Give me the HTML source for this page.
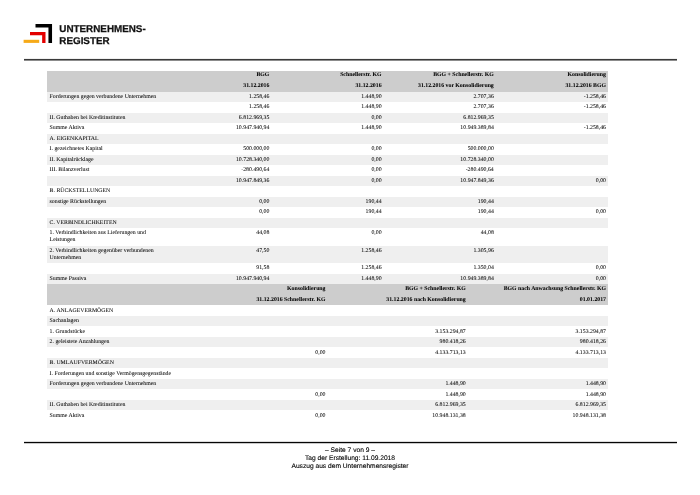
<!DOCTYPE html>
<html><head><meta charset="utf-8"><style>
*{margin:0;padding:0;box-sizing:border-box}
html,body{width:700px;height:495px;background:#fff;overflow:hidden}
body{position:relative;font-family:"Liberation Serif",serif;color:#000;text-rendering:geometricPrecision}
.c{-webkit-text-stroke:0.04px #000}
.logo div{position:absolute}
.lt{position:absolute;left:59.3px;font:bold 9.85px/12.1px "Liberation Sans",sans-serif;color:#111;white-space:nowrap;-webkit-text-stroke:0.25px #111}
.rule{position:absolute;left:23.5px;width:653px}
.r{position:absolute;left:47.0px;width:561.0px}
.c{position:absolute;top:0;font-size:5.82px;line-height:6.95px;padding-top:2.3px;white-space:nowrap}
.l{padding-left:2.6px;text-align:left}
.n{padding-right:2.0px;text-align:right}
.b{font-weight:bold}
.ft{position:absolute;left:0;width:700px;text-align:center;font:6.65px/7.8px "Liberation Sans",sans-serif;color:#000;-webkit-text-stroke:0.12px #000}
</style></head><body>
<div id="w" style="position:absolute;left:0;top:0;width:700px;height:495px;will-change:transform">
<svg style="position:absolute;left:0;top:0" width="60" height="50" viewBox="0 0 60 50">
<path d="M35.5 24.1H52.05V42.9H48.45V27.6H35.5Z" fill="#000"/>
<path d="M30 32.1H45.5V42.9H42.15V35.2H30Z" fill="#e30000"/>
<path d="M23.6 39.8H39.2V42.9H23.6Z" fill="#f6aa18"/>
</svg>
<div class="lt" style="top:23.9px">UNTERNEHMENS-<br>REGISTER</div>
<div class="rule" style="top:58px;height:1px;background:#f0f0f0"></div><div class="rule" style="top:59px;height:1px;background:#3a3a3a"></div><div class="rule" style="top:60px;height:1px;background:#8c8c8c"></div>
<div class="r" style="top:70.70px;height:10.50px;background:#cdcdcd;"><div class="c n b" style="left:112.20px;width:112.20px;padding-top:1.6px;">BGG</div><div class="c n b" style="left:224.40px;width:112.20px;padding-top:1.6px;">Schnellerstr. KG</div><div class="c n b" style="left:336.60px;width:112.20px;padding-top:1.6px;">BGG + Schnellerstr. KG</div><div class="c n b" style="left:448.80px;width:112.20px;padding-top:1.6px;">Konsolidierung</div></div>
<div class="r" style="top:81.20px;height:10.50px;background:#cdcdcd;"><div class="c n b" style="left:112.20px;width:112.20px;padding-top:2.2px;">31.12.2016</div><div class="c n b" style="left:224.40px;width:112.20px;padding-top:2.2px;">31.12.2016</div><div class="c n b" style="left:336.60px;width:112.20px;padding-top:2.2px;">31.12.2016 vor Konsolidierung</div><div class="c n b" style="left:448.80px;width:112.20px;padding-top:2.2px;">31.12.2016 BGG</div></div>
<div class="r" style="top:91.70px;height:10.50px;background:#efefef;"><div class="c l" style="left:0.00px;width:112.20px;">Forderungen gegen verbundene Unternehmen</div><div class="c n" style="left:112.20px;width:112.20px;">1.258,46</div><div class="c n" style="left:224.40px;width:112.20px;">1.448,90</div><div class="c n" style="left:336.60px;width:112.20px;">2.707,36</div><div class="c n" style="left:448.80px;width:112.20px;">-1.258,46</div></div>
<div class="r" style="top:102.20px;height:10.50px;"><div class="c n" style="left:112.20px;width:112.20px;">1.258,46</div><div class="c n" style="left:224.40px;width:112.20px;">1.448,90</div><div class="c n" style="left:336.60px;width:112.20px;">2.707,36</div><div class="c n" style="left:448.80px;width:112.20px;">-1.258,46</div></div>
<div class="r" style="top:112.70px;height:10.50px;background:#efefef;"><div class="c l" style="left:0.00px;width:112.20px;">II. Guthaben bei Kreditinstituten</div><div class="c n" style="left:112.20px;width:112.20px;">6.812.969,35</div><div class="c n" style="left:224.40px;width:112.20px;">0,00</div><div class="c n" style="left:336.60px;width:112.20px;">6.812.969,35</div></div>
<div class="r" style="top:123.20px;height:10.50px;"><div class="c l" style="left:0.00px;width:112.20px;">Summe Aktiva</div><div class="c n" style="left:112.20px;width:112.20px;">10.947.940,94</div><div class="c n" style="left:224.40px;width:112.20px;">1.448,90</div><div class="c n" style="left:336.60px;width:112.20px;">10.949.389,84</div><div class="c n" style="left:448.80px;width:112.20px;">-1.258,46</div></div>
<div class="r" style="top:133.70px;height:10.50px;background:#efefef;"><div class="c l" style="left:0.00px;width:112.20px;">A. EIGENKAPITAL</div></div>
<div class="r" style="top:144.20px;height:10.50px;"><div class="c l" style="left:0.00px;width:112.20px;">I. gezeichnetes Kapital</div><div class="c n" style="left:112.20px;width:112.20px;">500.000,00</div><div class="c n" style="left:224.40px;width:112.20px;">0,00</div><div class="c n" style="left:336.60px;width:112.20px;">500.000,00</div></div>
<div class="r" style="top:154.70px;height:10.50px;background:#efefef;"><div class="c l" style="left:0.00px;width:112.20px;">II. Kapitalrücklage</div><div class="c n" style="left:112.20px;width:112.20px;">10.728.340,00</div><div class="c n" style="left:224.40px;width:112.20px;">0,00</div><div class="c n" style="left:336.60px;width:112.20px;">10.728.340,00</div></div>
<div class="r" style="top:165.20px;height:10.50px;"><div class="c l" style="left:0.00px;width:112.20px;">III. Bilanzverlust</div><div class="c n" style="left:112.20px;width:112.20px;">-280.490,64</div><div class="c n" style="left:224.40px;width:112.20px;">0,00</div><div class="c n" style="left:336.60px;width:112.20px;">-280.490,64</div></div>
<div class="r" style="top:175.70px;height:10.50px;background:#efefef;"><div class="c n" style="left:112.20px;width:112.20px;">10.947.849,36</div><div class="c n" style="left:224.40px;width:112.20px;">0,00</div><div class="c n" style="left:336.60px;width:112.20px;">10.947.849,36</div><div class="c n" style="left:448.80px;width:112.20px;">0,00</div></div>
<div class="r" style="top:186.20px;height:10.50px;"><div class="c l" style="left:0.00px;width:112.20px;">B. RÜCKSTELLUNGEN</div></div>
<div class="r" style="top:196.70px;height:10.50px;background:#efefef;"><div class="c l" style="left:0.00px;width:112.20px;">sonstige Rückstellungen</div><div class="c n" style="left:112.20px;width:112.20px;">0,00</div><div class="c n" style="left:224.40px;width:112.20px;">190,44</div><div class="c n" style="left:336.60px;width:112.20px;">190,44</div></div>
<div class="r" style="top:207.20px;height:10.50px;"><div class="c n" style="left:112.20px;width:112.20px;">0,00</div><div class="c n" style="left:224.40px;width:112.20px;">190,44</div><div class="c n" style="left:336.60px;width:112.20px;">190,44</div><div class="c n" style="left:448.80px;width:112.20px;">0,00</div></div>
<div class="r" style="top:217.70px;height:10.50px;background:#efefef;"><div class="c l" style="left:0.00px;width:112.20px;">C. VERBINDLICHKEITEN</div></div>
<div class="r" style="top:228.20px;height:17.45px;"><div class="c l" style="left:0.00px;width:112.20px;">1. Verbindlichkeiten aus Lieferungen und<br>Leistungen</div><div class="c n" style="left:112.20px;width:112.20px;">44,08</div><div class="c n" style="left:224.40px;width:112.20px;">0,00</div><div class="c n" style="left:336.60px;width:112.20px;">44,08</div></div>
<div class="r" style="top:245.65px;height:17.45px;background:#efefef;"><div class="c l" style="left:0.00px;width:112.20px;">2. Verbindlichkeiten gegenüber verbundenen<br>Unternehmen</div><div class="c n" style="left:112.20px;width:112.20px;">47,50</div><div class="c n" style="left:224.40px;width:112.20px;">1.258,46</div><div class="c n" style="left:336.60px;width:112.20px;">1.305,96</div></div>
<div class="r" style="top:263.10px;height:10.50px;"><div class="c n" style="left:112.20px;width:112.20px;">91,58</div><div class="c n" style="left:224.40px;width:112.20px;">1.258,46</div><div class="c n" style="left:336.60px;width:112.20px;">1.350,04</div><div class="c n" style="left:448.80px;width:112.20px;">0,00</div></div>
<div class="r" style="top:273.60px;height:10.50px;background:#efefef;"><div class="c l" style="left:0.00px;width:112.20px;">Summe Passiva</div><div class="c n" style="left:112.20px;width:112.20px;">10.947.940,94</div><div class="c n" style="left:224.40px;width:112.20px;">1.448,90</div><div class="c n" style="left:336.60px;width:112.20px;">10.949.389,84</div><div class="c n" style="left:448.80px;width:112.20px;">0,00</div></div>
<div class="r" style="top:284.40px;height:10.50px;background:#cdcdcd;"><div class="c n b" style="left:140.25px;width:140.25px;padding-top:1.6px;">Konsolidierung</div><div class="c n b" style="left:280.50px;width:140.25px;padding-top:1.6px;">BGG + Schnellerstr. KG</div><div class="c n b" style="left:420.75px;width:140.25px;padding-top:1.6px;">BGG nach Anwachsung Schnellerstr. KG</div></div>
<div class="r" style="top:294.90px;height:10.50px;background:#cdcdcd;"><div class="c n b" style="left:140.25px;width:140.25px;padding-top:2.2px;">31.12.2016 Schnellerstr. KG</div><div class="c n b" style="left:280.50px;width:140.25px;padding-top:2.2px;">31.12.2016 nach Konsolidierung</div><div class="c n b" style="left:420.75px;width:140.25px;padding-top:2.2px;">01.01.2017</div></div>
<div class="r" style="top:305.40px;height:10.50px;"><div class="c l" style="left:0.00px;width:140.25px;">A. ANLAGEVERMÖGEN</div></div>
<div class="r" style="top:315.90px;height:10.50px;background:#efefef;"><div class="c l" style="left:0.00px;width:140.25px;">Sachanlagen</div></div>
<div class="r" style="top:326.40px;height:10.50px;"><div class="c l" style="left:0.00px;width:140.25px;">1. Grundstücke</div><div class="c n" style="left:280.50px;width:140.25px;">3.153.294,87</div><div class="c n" style="left:420.75px;width:140.25px;">3.153.294,87</div></div>
<div class="r" style="top:336.90px;height:10.50px;background:#efefef;"><div class="c l" style="left:0.00px;width:140.25px;">2. geleistete Anzahlungen</div><div class="c n" style="left:280.50px;width:140.25px;">980.418,26</div><div class="c n" style="left:420.75px;width:140.25px;">980.418,26</div></div>
<div class="r" style="top:347.40px;height:10.50px;"><div class="c n" style="left:140.25px;width:140.25px;">0,00</div><div class="c n" style="left:280.50px;width:140.25px;">4.133.713,13</div><div class="c n" style="left:420.75px;width:140.25px;">4.133.713,13</div></div>
<div class="r" style="top:357.90px;height:10.50px;background:#efefef;"><div class="c l" style="left:0.00px;width:140.25px;">B. UMLAUFVERMÖGEN</div></div>
<div class="r" style="top:368.40px;height:10.50px;"><div class="c l" style="left:0.00px;width:140.25px;">I. Forderungen und sonstige Vermögensgegenstände</div></div>
<div class="r" style="top:378.90px;height:10.50px;background:#efefef;"><div class="c l" style="left:0.00px;width:140.25px;">Forderungen gegen verbundene Unternehmen</div><div class="c n" style="left:280.50px;width:140.25px;">1.448,90</div><div class="c n" style="left:420.75px;width:140.25px;">1.448,90</div></div>
<div class="r" style="top:389.40px;height:10.50px;"><div class="c n" style="left:140.25px;width:140.25px;">0,00</div><div class="c n" style="left:280.50px;width:140.25px;">1.448,90</div><div class="c n" style="left:420.75px;width:140.25px;">1.448,90</div></div>
<div class="r" style="top:399.90px;height:10.50px;background:#efefef;"><div class="c l" style="left:0.00px;width:140.25px;">II. Guthaben bei Kreditinstituten</div><div class="c n" style="left:280.50px;width:140.25px;">6.812.969,35</div><div class="c n" style="left:420.75px;width:140.25px;">6.812.969,35</div></div>
<div class="r" style="top:410.40px;height:10.50px;"><div class="c l" style="left:0.00px;width:140.25px;">Summe Aktiva</div><div class="c n" style="left:140.25px;width:140.25px;">0,00</div><div class="c n" style="left:280.50px;width:140.25px;">10.948.131,38</div><div class="c n" style="left:420.75px;width:140.25px;">10.948.131,38</div></div>

<div class="rule" style="top:441px;height:1px;background:#dcdcdc"></div><div class="rule" style="top:442px;height:1px;background:#050505"></div><div class="rule" style="top:443px;height:1px;background:#c8c8c8"></div>
<div class="ft" style="top:447.4px">– Seite 7 von 9 –<br>Tag der Erstellung: 11.09.2018<br>Auszug aus dem Unternehmensregister</div>
</div>
</body></html>
